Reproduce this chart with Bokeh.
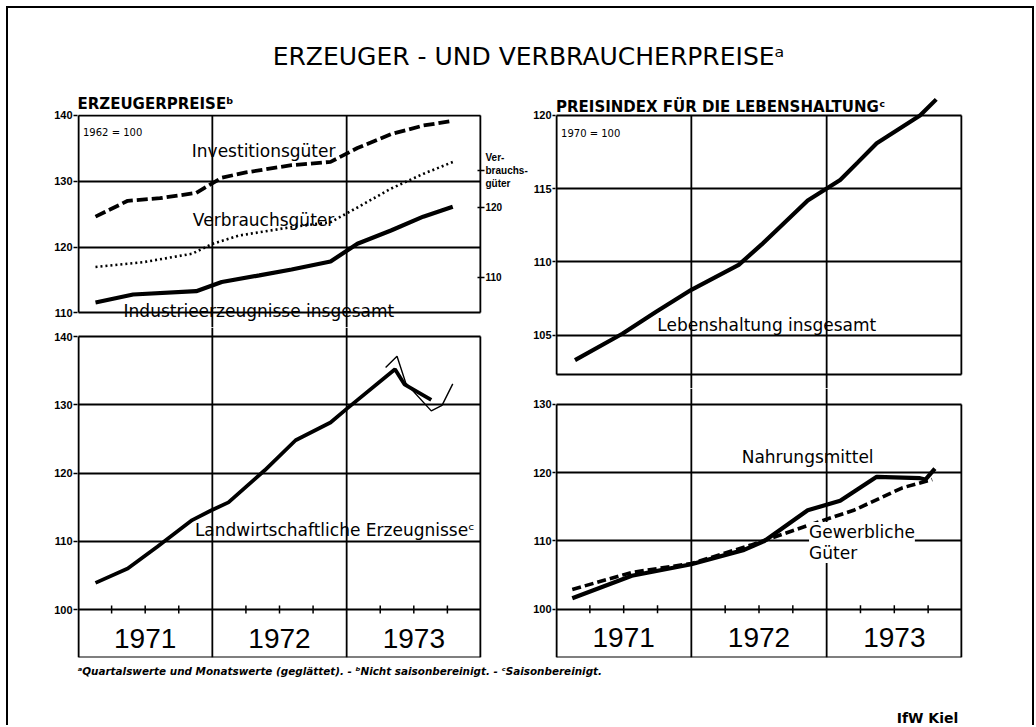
import math
from bokeh.plotting import figure
from bokeh.models import Range1d, LinearAxis, FixedTicker, Label, Grid
from bokeh.layouts import column, row
from bokeh.embed import file_html
from bokeh.resources import INLINE
from bokeh.core.properties import value

# ---------------- data ----------------
years = [1971, 1972, 1973]
year_labels = ["1971", "1972", "1973"]

# Erzeugerpreise (1962 = 100)
inv_t = [1971.13, 1971.37, 1971.61, 1971.88, 1972.07, 1972.25, 1972.59, 1972.88, 1973.08, 1973.33, 1973.57, 1973.79]
inv_v = [124.6, 127.0, 127.4, 128.2, 130.5, 131.3, 132.4, 132.9, 135.0, 137.1, 138.4, 139.1]

vg_t = [1971.13, 1971.49, 1971.85, 1972.0, 1972.20, 1972.59, 1972.88, 1973.08, 1973.33, 1973.57, 1973.79]
vg_v = [111.5, 112.2, 113.4, 114.8, 116.0, 117.2, 117.9, 120.0, 122.7, 124.8, 126.5]

ind_t = [1971.13, 1971.41, 1971.88, 1972.07, 1972.35, 1972.59, 1972.88, 1973.08, 1973.33, 1973.57, 1973.79]
ind_v = [111.6, 112.8, 113.3, 114.7, 115.7, 116.6, 117.8, 120.5, 122.5, 124.6, 126.1]

agr_t = [1971.13, 1971.37, 1971.59, 1971.85, 1971.99, 1972.12, 1972.39, 1972.62, 1972.88, 1973.0, 1973.36, 1973.43, 1973.63]
agr_v = [103.9, 106.0, 109.2, 113.1, 114.5, 115.7, 120.4, 124.8, 127.4, 129.4, 135.2, 133.0, 130.7]
agr_m_t = [1973.29, 1973.375, 1973.44, 1973.63, 1973.71, 1973.79]
agr_m_v = [135.45, 137.1, 133.2, 129.1, 129.9, 133.05]

# Preisindex fuer die Lebenshaltung (1970 = 100)
leb_t = [1971.14, 1971.49, 1971.74, 1972.0, 1972.35, 1972.52, 1972.69, 1972.86, 1973.10, 1973.23, 1973.37, 1973.69, 1973.81]
leb_v = [103.3, 105.1, 106.6, 108.1, 109.8, 111.2, 112.7, 114.2, 115.6, 116.8, 118.1, 120.0, 121.1]

nah_t = [1971.12, 1971.56, 1972.0, 1972.39, 1972.54, 1972.86, 1973.10, 1973.37, 1973.69, 1973.73, 1973.80]
nah_v = [101.6, 104.9, 106.6, 108.7, 110.0, 114.5, 115.9, 119.4, 119.2, 119.0, 120.6]

gew_t = [1971.12, 1971.56, 1972.0, 1972.44, 1972.88, 1973.20, 1973.56, 1973.78]
gew_v = [102.9, 105.4, 106.7, 109.4, 112.4, 114.5, 117.8, 119.0]

tl_ticks = [110, 120, 130, 140]
vg_ticks = [110, 120]
vg_name_pos = 125.3
bl_ticks = [100, 110, 120, 130, 140]
tr_ticks = [105, 110, 115, 120]
br_ticks = [100, 110, 120, 130]

year_bounds = [y + 1 for y in years[:-1]]
year_edges = [years[0], years[-1] + 1]
year_centers = [y + 0.5 for y in years]
quarters = [y + q for y in years for q in (0.25, 0.5, 0.75)]

FONT = "DejaVu Sans"
YEARFONT = "Liberation Sans"
INK = "black"
LW = 1.8


def base(w, h, ml, mr, mt, mb, y0, y1):
    p = figure(width=w, height=h, x_range=Range1d(1970.996, 1974.004), y_range=Range1d(y0, y1),
               output_backend="svg", toolbar_location=None,
               x_axis_location=None, y_axis_location=None,
               min_border_left=ml, min_border_right=mr, min_border_top=mt, min_border_bottom=mb)
    p.grid.visible = False
    p.outline_line_color = None
    p.background_fill_color = "white"
    p.border_fill_color = "white"
    return p


def box(p, lo, hi, yt, sep_top=None):
    """panel box from lo to hi; the year separators run through the whole frame"""
    r0, r1 = p.y_range.start, p.y_range.end
    top = r1 if sep_top is None else sep_top
    p.add_layout(Grid(dimension=0, ticker=FixedTicker(ticks=year_edges), cross_bounds=(lo, hi),
                      grid_line_color=INK, grid_line_width=LW + 0.3))
    p.segment(x0=year_bounds, x1=year_bounds, y0=[r0] * len(year_bounds),
              y1=[top] * len(year_bounds), line_color=INK, line_width=LW, level="underlay")
    p.add_layout(Grid(dimension=1, ticker=FixedTicker(ticks=[lo] + yt + [hi]),
                      cross_bounds=(year_edges[0], year_edges[-1]),
                      grid_line_color=INK, grid_line_width=LW))


def yaxis(p, ticks, side="left", rng="default", tin=0, tout=4, size="11px", overrides=None):
    ax = LinearAxis(y_range_name=rng, ticker=FixedTicker(ticks=ticks), axis_line_color=None,
                    major_tick_in=tin, major_tick_out=tout, major_tick_line_width=1.5,
                    major_tick_line_color=INK,
                    minor_tick_line_color=None, major_label_standoff=1,
                    major_label_text_font="Liberation Sans", major_label_text_font_style="bold",
                    major_label_text_font_size=size, major_label_text_color=INK)
    if overrides:
        ax.major_label_overrides = overrides
    p.add_layout(ax, side)
    return ax


def lab(p, x, y, text, size="17px", align="left", baseline="alphabetic", style="normal", bg=None):
    p.add_layout(Label(x=x, y=y, text=text, text_font=FONT, text_font_size=size,
                       text_align=align, text_baseline=baseline, text_font_style=style,
                       text_color=INK, background_fill_color=bg, text_line_height=1.05))


def year_strip(p):
    p.text(x=year_centers, y=[95.8] * len(years), text=year_labels,
           text_font=value(YEARFONT), text_font_size="28px",
           text_align="center", text_baseline="alphabetic", text_color=INK)
    p.scatter(x=quarters, y=[100] * len(quarters), marker="dash", angle=math.pi / 2,
              size=8, line_color=INK, line_width=1.5)


# ---------------- title ----------------
tp = figure(width=1024, height=82, x_range=Range1d(0, 1024), y_range=Range1d(0, 82),
            output_backend="svg", toolbar_location=None, x_axis_location=None,
            y_axis_location=None, min_border=0)
tp.grid.visible = False
tp.outline_line_color = None
tp.add_layout(Label(x=520, y=34, text="ERZEUGER - UND VERBRAUCHERPREISE\u1d43",
                    text_align="center", text_baseline="middle", text_font=FONT,
                    text_font_size="25px", text_color=INK))

# ---------------- top left: Erzeugerpreise ----------------
tl = base(522, 237, 69, 46, 24, 0, 107.803, 140.076)
tl.title.text = "ERZEUGERPREISE\u1d47"
tl.title.align = "left"
tl.title.offset = 0
tl.title.standoff = 3
tl.title.text_font = FONT
tl.title.text_font_size = "15px"
tl.title.text_font_style = "bold"
tl.title.text_color = INK
tl.extra_y_ranges = {"vg": Range1d(102.857, 133.286)}
box(tl, 110, 140, [120, 130], sep_top=140)
yaxis(tl, tl_ticks)
yaxis(tl, vg_ticks + [vg_name_pos], side="right", rng="vg", tin=4, tout=3, size="10px",
      overrides={vg_name_pos: "Ver-\nbrauchs-\ngüter"})
tl.line(inv_t, inv_v, line_color=INK, line_width=3.8, line_dash="11 4")
tl.line(vg_t, vg_v, line_color=INK, line_width=2.6, line_dash="2 3", y_range_name="vg")
tl.line(ind_t, ind_v, line_color=INK, line_width=4.2)
lab(tl, 1971.037, 137.3, "1962 = 100", size="10px")
lab(tl, 1971.847, 134.55, "Investitionsgüter")
lab(tl, 1971.855, 124.05, "Verbrauchsgüter")
lab(tl, 1971.339, 110.25, "Industrieerzeugnisse insgesamt")

# ---------------- bottom left: Landwirtschaft ----------------
bl = base(522, 332, 69, 46, 0, 2, 92.967, 141.319)
box(bl, 93.0, 140, [100, 110, 120, 130])
yaxis(bl, bl_ticks)
bl.line(agr_t, agr_v, line_color=INK, line_width=3.8)
bl.line(agr_m_t, agr_m_v, line_color=INK, line_width=1.4)
lab(bl, 1971.87, 111.6, "Landwirtschaftliche Erzeugnisse\u1d9c")
year_strip(bl)

# ---------------- top right: Lebenshaltung (line runs out above the box) ----------------
tr = base(502, 298, 23, 70, 5, 0, 101.363, 121.365)
box(tr, 102.3, 120, [105, 110, 115], sep_top=120)
yaxis(tr, tr_ticks, tout=3)
tr.line(leb_t, leb_v, line_color=INK, line_width=4.2)
lab(tr, 1971.0, 120.55, "PREISINDEX FÜR DIE LEBENSHALTUNG\u1d9c", size="15px", style="bold")
lab(tr, 1971.037, 118.8, "1970 = 100", size="10px")
lab(tr, 1971.748, 105.7, "Lebenshaltung insgesamt")

# ---------------- bottom right: Nahrungsmittel / Gewerbliche Gueter ----------------
br = base(502, 271, 23, 70, 0, 2, 92.93, 132.344)
box(br, 93.0, 130, [100, 110, 120])
yaxis(br, br_ticks, tout=3)
br.line(gew_t, gew_v, line_color=INK, line_width=3.6, line_dash="9 4")
br.line(nah_t, nah_v, line_color=INK, line_width=4.2)
lab(br, 1972.372, 122.3, "Nahrungsmittel")
lab(br, 1972.870, 112.8, "Gewerbliche\nGüter", baseline="top", bg="white")
year_strip(br)

# ---------------- footer ----------------
bot = figure(width=1024, height=66, x_range=Range1d(0, 1024), y_range=Range1d(0, 66),
             output_backend="svg", toolbar_location=None, x_axis_location=None,
             y_axis_location=None, min_border=0)
bot.grid.visible = False
bot.outline_line_color = None
bot.add_layout(Label(x=69, y=55,
                     text="\u1d43Quartalswerte und Monatswerte (geglättet). - \u1d47Nicht saisonbereinigt. - \u1d9cSaisonbereinigt.",
                     text_font=FONT, text_font_size="10.4px", text_font_style="bold italic",
                     text_color=INK, text_align="left", text_baseline="alphabetic"))
bot.add_layout(Label(x=919, y=8, text="IfW Kiel", text_font=FONT, text_font_size="14px",
                     text_color=INK, text_font_style="bold", text_align="center",
                     text_baseline="alphabetic"))

layout = column(tp, row(column(tl, bl), column(tr, br)), bot,
                styles={"margin": "6px 0px 0px 6px",
                        "border-top": "2px solid black", "border-left": "2px solid black",
                        "border-right": "2px solid black"})

open("out.html", "w").write(file_html(layout, INLINE))
